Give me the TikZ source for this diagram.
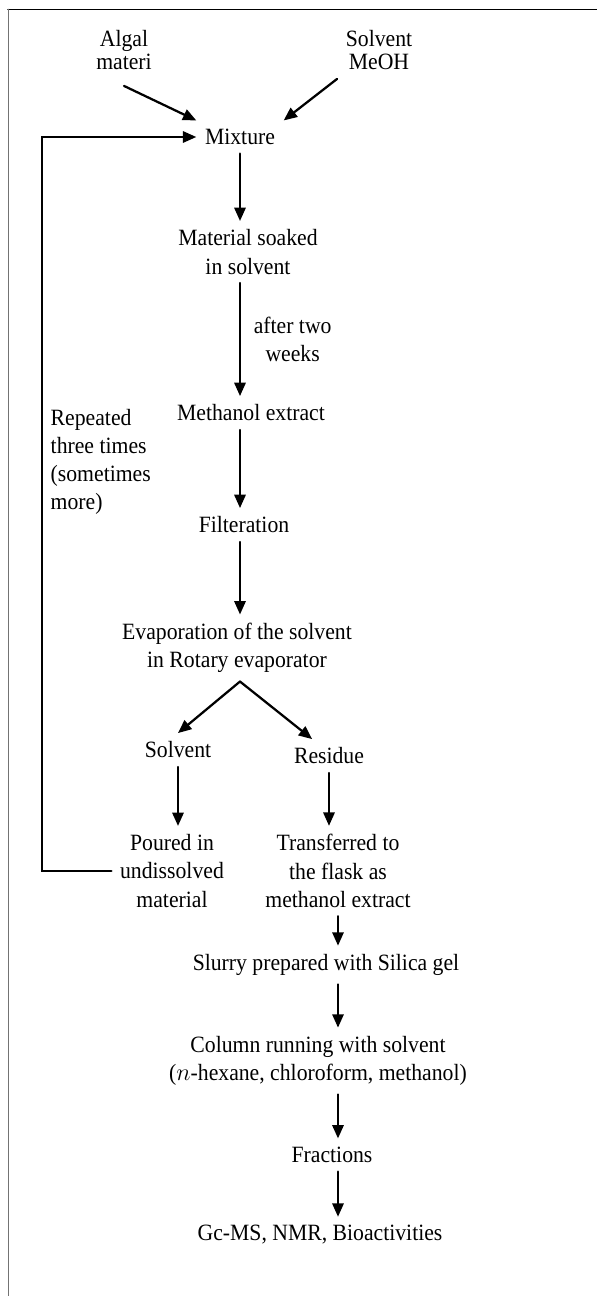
\documentclass[tikz,border=0pt]{standalone}
\usepackage{fontspec}
\setmainfont[FakeStretch=0.93]{Liberation Serif}
\usetikzlibrary{arrows.meta,positioning}

\begin{document}
\begin{tikzpicture}[x=0.025cm,y=-0.025cm,line cap=round,
    txt/.style={align=center,inner sep=6pt,font=\fontsize{16.6}{20}\selectfont},
    src/.style={txt,font=\fontsize{16.6}{17}\selectfont},
    arr/.style={-{Triangle[length=9.5pt,width=8pt]},line width=1.6pt},
    frame/.style={line width=1.4pt}]

    \useasboundingbox (0,0) rectangle (597,1296);
    \draw[frame] (8,9.5) -- (597,9.5);
    \draw[frame,black!55] (8.5,9.5) -- (8.5,1296);

    \node[src] (alg) at (124,50) {Algal\\materi};
    \node[src] (meoh) at (379,50) {Solvent\\MeOH};
    \node[txt] (mix) at (240,137) {Mixture};
    \node[txt] (soak) at (248,252) {Material soaked\\in solvent};
    \node[txt] (meth) at (251,413) {Methanol extract};
    \node[txt] (filt) at (244,525) {Filteration};
    \node[txt] (evap) at (237,648) {Evaporation of the solvent\\in Rotary evaporator};
    \node[txt] (solvout) at (178,750) {Solvent};
    \node[txt] (resid) at (329,756) {Residue};
    \node[txt] (pour) at (172,871) {Poured in\\undissolved\\material};
    \node[txt] (trans) at (338,871) {Transferred to\\the flask as\\methanol extract};
    \node[txt] (slurry) at (326,965) {Slurry prepared with Silica gel};
    \node[txt] (column) at (318,1061) {Column running with solvent\\($n$-hexane, chloroform, methanol)};
    \node[txt] (frac) at (332,1155) {Fractions};
    \node[txt] (gcms) at (320,1235) {Gc-MS, NMR, Bioactivities};
    \node[txt,align=left,anchor=west] (rep) at (42,462) {Repeated\\three times\\(sometimes\\more)};
    \coordinate (loop) at (42,137);

    \draw[arr] ([yshift=-5pt]alg.south) -- (mix.north west);
    \draw[arr] (meoh.south west) -- (mix.north east);
    \draw[arr] (mix.south) -- (mix.south |- soak.north);
    \draw[arr] (soak.south -| mix) -- node[txt,right=3pt] (wk) {after two\\weeks} (meth.north -| mix);
    \draw[arr] (meth.south -| mix) -- (filt.north -| mix);
    \draw[arr] (filt.south -| mix) -- (evap.north -| mix);
    \draw[arr] (evap.south -| mix) -- (solvout.north);
    \draw[arr] (evap.south -| mix) -- ([xshift=-12pt]resid.north);
    \draw[arr] (solvout.south) -- (solvout.south |- pour.north);
    \draw[arr] (resid.south) -- (resid.south |- trans.north);
    \draw[arr] (trans.south) -- (trans.south |- slurry.north);
    \draw[arr] (slurry.south -| trans) -- (column.north -| trans);
    \draw[arr] (column.south -| trans) -- (frac.north -| trans);
    \draw[arr] (frac.south -| trans) -- (gcms.north -| trans);
    \draw[arr] (pour.west) -| (loop) -- (mix.west);
\end{tikzpicture}
\end{document}
